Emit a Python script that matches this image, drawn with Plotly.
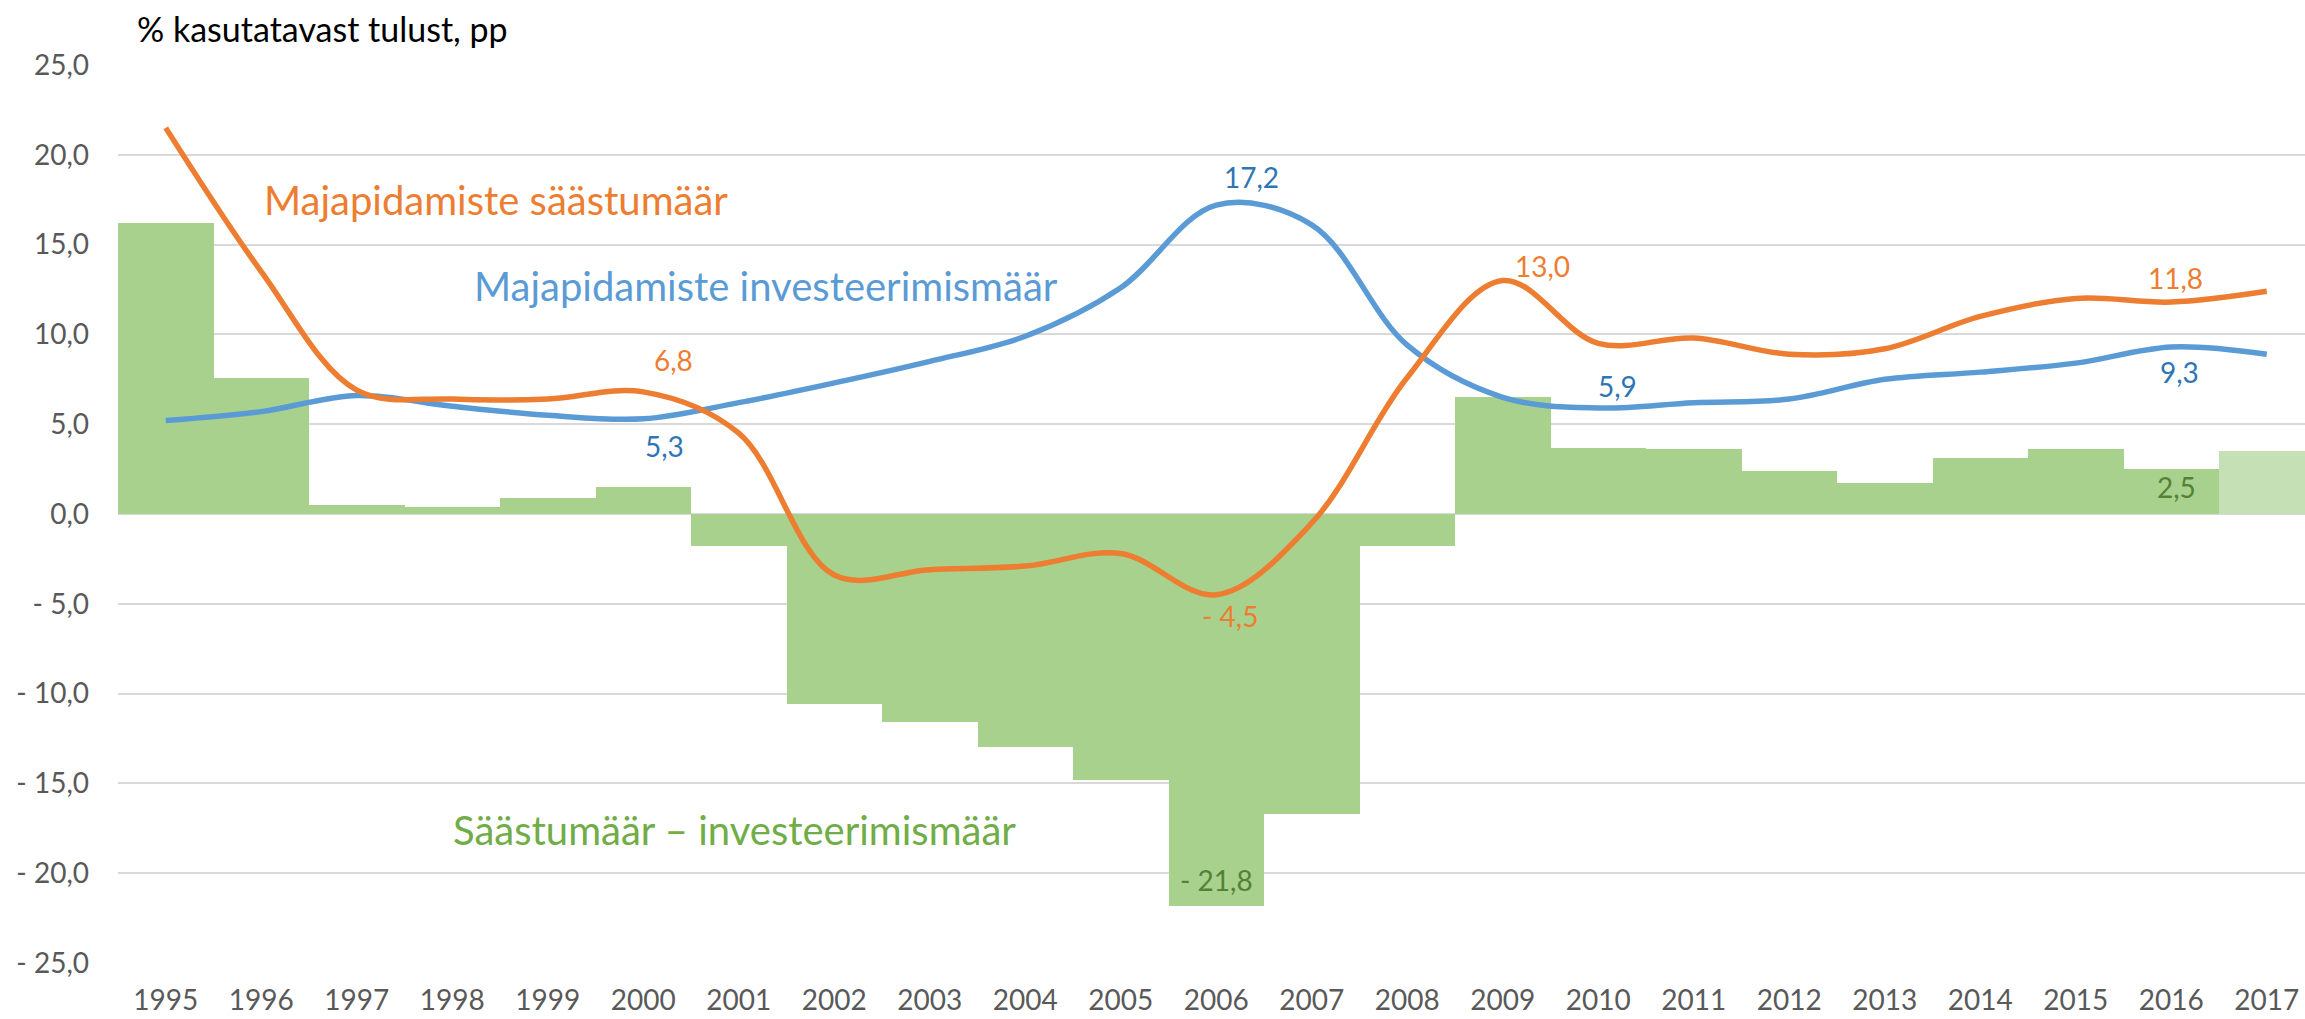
import plotly.graph_objects as go

# ---- data ----
years = ["1995", "1996", "1997", "1998", "1999", "2000", "2001", "2002", "2003", "2004",
         "2005", "2006", "2007", "2008", "2009", "2010", "2011", "2012", "2013", "2014",
         "2015", "2016", "2017"]
saving_rate = [21.5, 13.5, 6.9, 6.4, 6.4, 6.8, 4.5, -3.4, -3.1, -2.9, -2.2, -4.5, -0.5,
               7.6, 13.0, 9.5, 9.8, 8.9, 9.2, 11.0, 12.0, 11.8, 12.4]
investment_rate = [5.2, 5.7, 6.6, 6.0, 5.5, 5.3, 6.2, 7.3, 8.5, 9.9, 12.6, 17.2, 16.1,
                   9.4, 6.5, 5.9, 6.2, 6.4, 7.5, 7.9, 8.4, 9.3, 8.9]
gap = [16.2, 7.6, 0.5, 0.4, 0.9, 1.5, -1.8, -10.6, -11.6, -13.0, -14.8, -21.8, -16.7,
       -1.8, 6.5, 3.7, 3.6, 2.4, 1.7, 3.1, 3.6, 2.5, 3.5]
y_tickvals = [-25, -20, -15, -10, -5, 0, 5, 10, 15, 20, 25]
y_ticktext = ["- 25,0", "- 20,0", "- 15,0", "- 10,0", "- 5,0", "0,0",
              "5,0", "10,0", "15,0", "20,0", "25,0"]

# ---- styling ----
W, H = 2305, 1019
L, R, T, B = 118, 0, 65, 56
FONT = "Lato, 'Open Sans', sans-serif"
ORANGE = "#ED7D31"
BLUE = "#5B9BD5"
BLUE_DARK = "#2E75B6"
GREEN_BAR = "#A9D18E"
GREEN_LIGHT = "#C5E0B4"
GREEN_TXT = "#70AD47"
GREEN_DARK = "#548235"
GRID = "#D9D9D9"
TICK = "#595959"

x = list(range(len(years)))
bar_colors = [GREEN_BAR] * (len(years) - 1) + [GREEN_LIGHT]

fig = go.Figure()
fig.add_trace(go.Bar(x=x, y=gap, width=1.0, marker=dict(color=bar_colors, line=dict(width=0)),
                     name="Säästumäär – investeerimismäär", hoverinfo="y"))
fig.add_trace(go.Scatter(x=x, y=investment_rate, mode="lines",
                         line=dict(color=BLUE, width=5.5, shape="spline", smoothing=1.0),
                         name="Majapidamiste investeerimismäär"))
fig.add_trace(go.Scatter(x=x, y=saving_rate, mode="lines",
                         line=dict(color=ORANGE, width=5.5, shape="spline", smoothing=1.0),
                         name="Majapidamiste säästumäär"))

plot_w = W - L - R
x_unit = 95.5
x_max = -0.5 + plot_w / x_unit


def px2x(px):
    return -0.5 + (px - L) / x_unit


def py2y(py):
    return 25 - (py - T) * 50.0 / (H - T - B)


ann = []
# big series labels
ann.append(dict(x=px2x(262), y=py2y(200), text="Majapidamiste säästumäär", xanchor="left",
                yanchor="middle", font=dict(family=FONT, size=40, color=ORANGE)))
ann.append(dict(x=px2x(472), y=py2y(286), text="Majapidamiste investeerimismäär", xanchor="left",
                yanchor="middle", font=dict(family=FONT, size=40, color=BLUE)))
ann.append(dict(x=px2x(451), y=py2y(830), text="Säästumäär – investeerimismäär", xanchor="left",
                yanchor="middle", font=dict(family=FONT, size=40, color=GREEN_TXT)))


def val(s):
    return ("- " if s < 0 else "") + f"{abs(s):.1f}".replace(".", ",")


# data labels: (series, index, color, xshift, yshift)
labels = [
    (investment_rate, 11, BLUE_DARK, 35, 28),
    (saving_rate, 14, ORANGE, 40, 15),
    (saving_rate, 5, ORANGE, 30, 32),
    (investment_rate, 5, BLUE_DARK, 21, -27),
    (saving_rate, 11, ORANGE, 14, -21),
    (gap, 11, GREEN_DARK, 0, 26),
    (investment_rate, 15, BLUE_DARK, 19, 22),
    (saving_rate, 21, ORANGE, 4, 24),
    (investment_rate, 21, BLUE_DARK, 8, -25),
    (gap, 21, GREEN_DARK, 5, -18),
]
for series, i, col, xs, ys in labels:
    ann.append(dict(x=x[i], y=series[i], text=val(series[i]), xanchor="center", yanchor="middle",
                    xshift=xs, yshift=ys, font=dict(family=FONT, size=28, color=col)))

for a in ann:
    a.update(xref="x", yref="y", showarrow=False)

ann.append(dict(xref="paper", yref="paper", x=(135 - L) / plot_w, y=1 + (65 - 28) / (H - T - B),
                xanchor="left", yanchor="middle", showarrow=False, text="% kasutatavast tulust, pp",
                font=dict(family=FONT, size=34, color="#000000")))

fig.update_layout(
    width=W, height=H,
    margin=dict(l=L, r=R, t=T, b=B, pad=0),
    paper_bgcolor="white", plot_bgcolor="white",
    showlegend=False, bargap=0,
    font=dict(family=FONT, size=28, color=TICK),
    annotations=ann,
    xaxis=dict(range=[-0.5, x_max], tickmode="array", tickvals=x, ticktext=years,
               showgrid=False, zeroline=False, showline=False, ticks="",
               tickfont=dict(family=FONT, size=28, color=TICK), ticklabelstandoff=18,
               fixedrange=True),
    yaxis=dict(range=[-25, 25], tickmode="array", tickvals=y_tickvals, ticktext=y_ticktext,
               showgrid=True, gridcolor=GRID, gridwidth=2, zeroline=False, showline=False,
               ticks="", tickfont=dict(family=FONT, size=28, color=TICK), ticklabelstandoff=28,
               fixedrange=True),
)

fig.write_html("out.html", config={"displayModeBar": False},
               post_script="document.body.style.margin='0';document.body.style.padding='0';"
                           "document.body.style.overflow='hidden';")
